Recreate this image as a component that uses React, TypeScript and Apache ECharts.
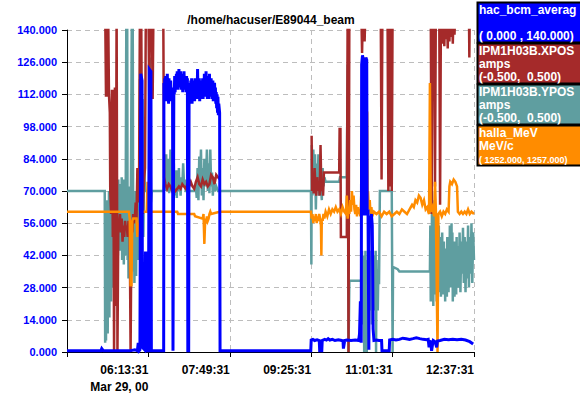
import React, { useEffect, useRef } from "react";
import * as echarts from "echarts";

// x values: minutes since 04:37:31 (Mar 29, 00); y values: display scale 0..140
const xTickLabels = ["", "06:13:31", "07:49:31", "09:25:31", "11:01:31", "12:37:31"];
const dateLabel = "Mar 29, 00";
const titleText = "/home/hacuser/E89044_beam";

const legendItems = [
  { name: "hac_bcm_averag", unit: "", range: "( 0.000 , 140.000)", color: "#0000ff", rangeSize: 12 },
  { name: "IPM1H03B.XPOS", unit: "amps", range: "(-0.500,  0.500)", color: "#a52a2a", rangeSize: 12 },
  { name: "IPM1H03B.YPOS", unit: "amps", range: "(-0.500,  0.500)", color: "#5f9ea0", rangeSize: 12 },
  { name: "halla_MeV", unit: "MeV/c", range: "( 1252.000, 1257.000)", color: "#ff8c00", rangeSize: 9 },
];

const bcmAverage: [number, number][] = [
  [0, 0.5], [40, 0.5], [41, 1.5], [43, 0.5], [60, 0.5], [74, 0.5], [80, 1], [83, 0.5], [84, 4], [85, 0.5], [86, 1],
  [87, 121], [88.5, 118], [89, 2], [91.5, 1], [92.5, 43], [93.5, 43], [94, 0.5], [96, 0.5], [97, 123], [99, 122], [99.5, 0.5], [114, 0.5],
  [114.3, 117], [114.8, 110], [115.3, 119], [115.8, 111], [116.3, 120], [116.8, 109], [117.3, 118], [117.8, 112], [118.3, 121], [118.8, 110],
  [119.3, 117], [119.8, 108], [120.3, 119], [120.8, 111], [121.3, 116], [121.8, 109], [122.3, 118], [122.8, 110], [123.3, 115], [123.8, 111],
  [124.5, 112], [125, 0.5], [125.5, 0.5], [126, 115], [126.5, 112], [127, 120], [127.5, 113], [128, 119], [128.5, 114], [129, 121], [129.5, 115],
  [130, 122], [130.5, 114], [131, 121], [131.5, 116], [132, 123], [132.5, 115], [133, 120], [133.5, 116], [134, 122], [134.5, 114], [135, 121],
  [135.5, 115], [136, 119], [136.5, 113], [137, 121], [137.5, 116], [138, 122], [138.5, 114], [139, 120], [139.5, 115], [140, 119], [140.5, 113],
  [141, 120], [141.5, 114], [142, 119], [142.5, 0.5], [143.5, 0.5], [144, 117], [144.5, 110], [145, 116], [145.5, 109], [146, 118], [146.5, 111],
  [147, 119], [147.5, 108], [148, 116], [148.5, 110], [149, 118], [149.5, 112], [150, 117], [150.5, 109], [151, 119], [151.5, 112], [152, 116],
  [152.5, 110], [153, 118], [153.5, 113], [154, 123], [154.5, 111], [155, 117], [155.5, 110], [156, 119], [156.5, 109], [157, 116], [157.5, 111],
  [158, 118], [158.5, 110], [159, 117], [159.5, 112], [160, 119], [160.5, 110], [161, 117], [161.5, 111], [162, 121], [162.5, 112], [163, 118],
  [163.5, 113], [164, 122], [164.5, 111], [165, 118], [165.5, 110], [166, 120], [166.5, 112], [167, 117], [167.5, 110], [168, 121], [168.5, 112],
  [169, 118], [169.5, 111], [170, 119], [170.5, 112], [171, 117], [171.5, 110], [172, 118], [172.5, 109], [173, 116], [173.5, 111], [174, 117],
  [174.5, 110], [175, 115], [175.5, 108], [176, 113], [176.5, 106], [177, 112], [177.5, 104], [178, 111], [178.5, 103], [179, 108], [180, 104],
  [180.5, 0.5], [287.5, 0.5],
  [288, 5.2], [290, 5.5], [292, 5], [295, 5.3], [297.5, 5], [298, 0.5], [300.5, 0.5], [301, 5], [304, 5.5], [306, 5.2], [308, 5.8], [310, 5.2],
  [313, 5.5], [316, 5], [320, 5.3], [324, 5], [325.5, 4.8], [326, 1.5], [327.5, 5], [330, 5.2], [335, 5], [340, 5.2], [344, 5], [345, 8],
  [346, 22], [347, 4], [347.5, 125], [348.5, 129], [349.5, 127], [350, 60], [352, 60], [352.5, 128], [353.5, 127], [354, 60], [355, 62],
  [356, 1], [356.5, 58], [358, 57], [359, 60], [360, 55], [360.5, 38], [361, 10], [362, 5], [365, 5.2], [368, 5], [371, 5], [371.5, 0.5], [380, 0.5],
  [380.5, 5.2], [384, 5.5], [388, 5.2], [392, 5.5], [396, 6], [400, 5.8], [404, 5.5], [408, 5.8], [412, 6.2], [416, 5.8], [420, 5.5], [424, 5.3],
  [426, 5.5], [427, 2], [428, 5], [429, 4], [430, 0.5], [431, 3], [432, 5], [434, 4.5], [436, 2], [437, 4.8], [440, 5], [445, 5.5], [450, 5.3],
  [455, 5.5], [460, 5.3], [465, 5.5], [470, 5.2], [475, 4.5], [479, 3.5],
];

const xpos: [number, number | null][] = [
  [45, 150], [46, 111], [46.5, 150], [47.5, 111], [48.5, 150], [49.5, 112], [50.5, 104], [51, 70], [52, 60], [53, 114], [54, 50], [54.5, 114],
  [55.5, 0], [56.5, 115], [57.5, 20], [58.5, 150], [59.5, 0], [60.5, 55], [61.5, 55], [62.5, 60], [63.5, 52], [64.5, 58], [65.5, 48], [66.5, 55],
  [67.5, 50], [68.5, 57], [69.5, 53], [70.5, 55], [71.5, 50], [72.5, 57], [74, 52], [75, 0], [76, 55], [77, 52], [78, 60], [79, 56], [80, 58],
  [81, 65], [82, 58], [83, 80], [84, 65], [85, 75], [86, 150], [87.5, 150], [88.5, 80], [89.5, 60], [90.5, 72], [92, 80], [93, 150], [96, 150],
  [97, 110], [98, 150], [100, 150], [101, 110], [102, 150], [113.5, 150], [114.5, 76], [116, 73], [118, 71], [120, 73], [122, 72], [124, 70],
  [126, 71], [128, 70], [130, 71], [132, 72], [134, 71], [136, 73], [138, 72], [140, 71], [142, 73], [144, 72], [146, 74], [148, 72], [150, 71],
  [152, 74], [154, 76], [156, 73], [158, 72], [160, 75], [162, 73], [164, 74], [166, 72], [168, 73], [170, 77], [172, 76], [174, 73], [176, 77],
  [178, 76], [180.4, 75], [181, null],
  [288.5, 94], [289, 70], [290, 75], [291, 69], [292, 80], [293, 72], [294, 68], [295, 76], [296, 70], [297, 74], [298, 68], [299, 90], [300, 70],
  [301, 72], [302, 68], [303, 78], [304, 78], [321, 78], [321.5, 97], [322.5, 97], [323, 50], [330, 50], [331, 150], [332, 0], [333, 150],
  [347, 150], [348, 130], [349, 150], [350, 150], [351, 135], [352, 150], [370, 150], [371, 75], [372, 150], [378, 150], [379, 70], [380, 150],
  [381, 72], [382, 150], [383, 70], [384, 150], [429, 150], [430, 60], [431, 150], [433, 150], [434, 72], [435, 150], [439, 150], [440, 64],
  [441, 150], [443, 134], [444, 150], [445, 133], [446, 150], [447, 136], [448, 150], [449, 132], [450, 150], [451, 135], [452, 150], [453, 137],
  [454, 150], [455, 134], [456, 150], [457, 138], [458, 150], [474, 150], [474.5, 128], [475, 150], [480, 150],
];

const ypos: [number, number][] = [
  [0, 70], [44.5, 70], [45, 4], [45.5, 62], [46, 5], [46.5, 55], [47, 12], [47.5, 66], [48, 8], [48.5, 60], [49, 25], [49.5, 70], [50, 15],
  [50.5, 64], [51, 30], [51.5, 72], [52, 22], [52.5, 68], [53, 38], [53.5, 73], [54, 28], [54.5, 66], [55, 42], [55.5, 71], [56, 35], [56.5, 73],
  [57, 45], [57.5, 68], [58, 40], [58.5, 74], [59, 48], [59.5, 70], [60, 42], [60.5, 75], [61, 50], [61.5, 68], [62, 44], [62.5, 73], [63, 52],
  [63.5, 70], [64, 46], [64.5, 76], [65, 40], [65.5, 72], [66, 48], [66.5, 75], [67, 38], [67.5, 70], [68, 45], [68.5, 73], [69, 42], [70, 150],
  [71, 150], [71.5, 40], [72, 70], [72.5, 32], [73, 68], [73.5, 35], [74, 72], [75, 45], [76.5, 150], [77.5, 150], [78, 58], [78.5, 35], [79, 66],
  [79.5, 30], [80, 62], [80.5, 40], [81, 70], [81.5, 33], [82, 64], [82.5, 45], [83, 70], [84, 40], [85, 72], [86, 118], [87, 118], [88, 60],
  [89, 110], [90, 50], [91, 80], [92, 70], [97, 70], [98, 128], [99, 65], [100, 70], [114, 70],
  [115, 80], [115.5, 70], [116, 83], [116.5, 72], [117, 86], [117.5, 74], [118, 80], [118.5, 70], [119, 84], [119.5, 73], [120, 78], [120.5, 69],
  [121, 82], [121.5, 72], [122, 88], [122.5, 73], [123, 80], [123.5, 70], [124, 87], [124.5, 72], [125, 86], [125.5, 74], [126, 82], [126.5, 70],
  [127, 79], [127.5, 68], [128, 78], [128.5, 71], [129, 76], [129.5, 67], [130, 79], [130.5, 72], [131, 76], [131.5, 70], [132, 80], [132.5, 71],
  [133, 76], [134, 68], [135, 76], [136, 72], [137, 82], [138, 73], [139, 75], [140, 70], [150, 70], [152, 72], [153, 67], [154, 80], [155, 66],
  [156, 85], [157, 73], [158, 88], [159, 68], [160, 80], [161, 66], [162, 84], [163, 72], [164, 76], [165, 88], [166, 70], [167, 82], [168, 69],
  [169, 88], [170, 72], [171, 78], [172, 68], [173, 76], [174, 70], [176, 72], [178, 70], [287.7, 70],
  [288.2, 38], [288.7, 90], [289.5, 68], [290.5, 88], [291.5, 70], [292.5, 86], [293.5, 62], [294.5, 82], [295.5, 70], [296.5, 86], [297.5, 68],
  [298.5, 80], [299.5, 72], [300.5, 66], [301.5, 80], [302.5, 72], [303.5, 76], [305, 74], [321, 74], [322, 76], [330, 76], [331, 125], [332, 0],
  [333, 31], [347, 31], [348, 44], [348.5, 12], [349, 42], [349.5, 24], [350, 40], [350.5, 0], [351, 38], [351.5, 18], [352, 44], [352.5, 20],
  [353, 36], [353.5, 0], [354, 40], [354.5, 22], [355, 38], [355.5, 16], [356, 42], [356.5, 22], [357, 36], [357.5, 18], [358, 40], [358.5, 20],
  [359, 44], [359.5, 12], [360, 40], [360.5, 24], [361, 36], [361.5, 18], [362, 42], [362.5, 22], [363, 38], [363.5, 20], [364, 44], [364.5, 0],
  [365, 40], [365.5, 22], [366, 36], [366.5, 18], [367, 30], [368, 30], [369, 70], [383, 70], [384, 0], [384.5, 37], [390, 36], [392, 35], [428, 35],
  [428.5, 55], [429, 22], [429.5, 48], [430, 25], [430.5, 70], [431, 28], [431.5, 66], [432, 20], [432.5, 55], [433, 30], [433.5, 62], [434, 25],
  [434.5, 50], [435, 30], [435.5, 45], [436, 22], [436.5, 52], [437, 28], [437.5, 48], [438, 32], [438.5, 55], [439, 26], [439.5, 44], [440, 30],
  [440.5, 50], [441, 24], [441.5, 46], [442, 34], [442.5, 52], [443, 28], [443.5, 42], [444, 25], [444.5, 48], [445, 30], [445.5, 38], [446, 22],
  [446.5, 45], [447, 28], [447.5, 40], [448, 24], [448.5, 50], [449, 30], [449.5, 44], [450, 26], [450.5, 48], [451, 32], [451.5, 55], [452, 28],
  [452.5, 50], [453, 34], [453.5, 56], [454, 30], [454.5, 52], [455, 22], [455.5, 46], [456, 30], [456.5, 42], [457, 24], [457.5, 48], [458, 28],
  [458.5, 40], [459, 25], [459.5, 50], [460, 30], [461, 46], [462, 28], [463, 52], [464, 26], [465, 48], [466, 34], [467, 54], [468, 30],
  [469, 50], [470, 26], [471, 48], [472, 32], [473, 55], [474, 28], [475, 50], [476, 34], [477, 56], [478, 30], [479, 52], [480, 40],
];

const hallaMeV: [number, number][] = [
  [0, 61], [73, 61], [74, 58], [75, 29], [76, 29], [77, 57], [78, 58], [82, 58], [83, 50], [84, 56], [85, 52], [86, 61], [94, 61], [95, 74],
  [96, 61], [130, 61], [131, 60], [150, 60], [151, 59], [160, 58], [161, 60], [162, 47], [163, 58], [164, 56], [165, 59], [166, 57], [167, 58],
  [168, 60], [169, 61], [170, 60], [180, 61], [287.7, 61],
  [288.5, 58], [289.5, 60], [290.5, 56], [291.5, 59], [292.5, 57], [293.5, 60], [294.5, 56], [295.5, 59], [296.5, 57], [297.5, 60], [298.5, 58],
  [299.5, 55], [300, 42], [300.5, 58], [301.5, 57], [302.5, 60], [303.5, 58], [305, 61], [307, 59], [309, 62], [311, 60], [313, 62], [315, 61],
  [317, 63], [319, 61], [321, 62], [323, 60], [325, 63], [327, 61], [329, 60], [330, 68], [331, 58], [332, 62], [333, 60], [334, 66], [335, 61],
  [336, 70], [337, 64], [338, 68], [339, 62], [340, 60], [341, 64], [342, 59], [343, 63], [344, 60], [345, 62], [346, 59], [347, 68], [348, 62],
  [350, 64], [350.5, 128], [351.5, 126], [352, 70], [353, 106], [354, 104], [354.5, 64], [355, 70], [356, 62], [357, 66], [358, 60], [359, 63],
  [360, 59], [362, 61], [365, 60], [368, 61], [371, 59], [374, 61], [377, 60], [380, 61], [383, 59], [386, 60], [389, 61], [392, 60], [395, 62],
  [398, 61], [401, 60], [404, 62], [407, 64], [409, 63], [411, 66], [413, 65], [415, 68], [417, 67], [419, 64], [421, 66], [423, 62], [425, 63],
  [426, 61], [427, 60], [428, 117], [429, 61], [431, 63], [433, 59], [434, 74], [435, 62], [436, 30], [437, 0], [438, 60], [440, 61], [442, 59],
  [444, 61], [446, 60], [448, 62], [450, 61], [451, 72], [452, 74], [454, 73], [456, 75], [458, 74], [460, 72], [461, 61], [463, 60], [465, 61],
  [467, 60], [469, 61], [471, 60], [473, 62], [475, 60], [477, 61], [480, 60],
];

const FONT = "'Liberation Sans', Arial, sans-serif";

function buildOption() {
  const graphics: any[] = [
    {
      type: "text",
      x: 271,
      y: 20,
      style: {
        text: titleText,
        fill: "#000",
        font: `bold 12px ${FONT}`,
        textAlign: "center",
        textVerticalAlign: "middle",
      },
    },
  ];
  legendItems.forEach((item, i) => {
    const top = 2.5 + i * 41;
    const children: any[] = [
      {
        type: "rect",
        shape: { x: 477.5, y: top, width: 104, height: 40 },
        style: { fill: item.color, stroke: "#000", lineWidth: 2 },
      },
      {
        type: "text",
        x: 479,
        y: top + 7,
        style: { text: item.name, fill: "#fff", font: `bold 12px ${FONT}`, textVerticalAlign: "middle" },
      },
    ];
    if (item.unit) {
      children.push({
        type: "text",
        x: 479,
        y: top + 20.5,
        style: { text: item.unit, fill: "#fff", font: `bold 12px ${FONT}`, textVerticalAlign: "middle" },
      });
    }
    children.push({
      type: "text",
      x: 479,
      y: top + (item.rangeSize < 10 ? 34 : 33.5),
      style: { text: item.range, fill: "#fff", font: `bold ${item.rangeSize}px ${FONT}`, textVerticalAlign: "middle" },
    });
    graphics.push({ type: "group", children });
  });

  const lineSeries = (name: string, data: any[], color: string, width: number, z: number) => ({
    name,
    type: "line",
    data,
    showSymbol: false,
    symbol: "none",
    connectNulls: false,
    clip: true,
    silent: true,
    z,
    lineStyle: { color, width, join: "miter" },
    emphasis: { disabled: true },
  });

  return {
    animation: false,
    backgroundColor: "#ffffff",
    textStyle: { fontFamily: FONT },
    grid: { left: 67, top: 30, width: 407, height: 322, containLabel: false, outerBoundsMode: "none" },
    xAxis: {
      type: "value",
      min: 0,
      max: 480,
      interval: 96,
      axisLine: { show: true, onZero: false, lineStyle: { color: "#000", width: 1 } },
      axisTick: { show: true, length: 5, inside: false, lineStyle: { color: "#000" } },
      splitLine: { show: true, lineStyle: { color: "#bdbdbd", type: [5, 4], width: 1 } },
      axisLabel: {
        show: true,
        interval: 0,
        showMinLabel: true,
        showMaxLabel: true,
        hideOverlap: false,
        align: "right",
        margin: 9,
        color: "#000",
        fontWeight: "bold",
        fontSize: 12,
        fontFamily: FONT,
        lineHeight: 17,
        formatter: (v: number) => {
          const i = Math.round(v / 96);
          const lab = xTickLabels[i] ?? "";
          return i === 1 ? `${lab}\n${dateLabel}` : lab;
        },
      },
    },
    yAxis: {
      type: "value",
      min: 0,
      max: 140,
      interval: 14,
      axisLine: { show: true, lineStyle: { color: "#000", width: 1 } },
      axisTick: { show: true, length: 5, inside: false, lineStyle: { color: "#000" } },
      splitLine: { show: true, lineStyle: { color: "#bdbdbd", type: [5, 4], width: 1 } },
      axisLabel: {
        show: true,
        margin: 10,
        color: "#0000ff",
        fontWeight: "bold",
        fontSize: 11,
        fontFamily: FONT,
        formatter: (v: number) => v.toFixed(3),
      },
    },
    series: [
      lineSeries("IPM1H03B.YPOS", ypos, "#5f9ea0", 2.5, 2),
      lineSeries("IPM1H03B.XPOS", xpos, "#a52a2a", 2.5, 3),
      lineSeries("halla_MeV", hallaMeV, "#ff8c00", 2.5, 4),
      lineSeries("hac_bcm_average", bcmAverage, "#0000ff", 3, 5),
    ],
    graphic: graphics,
  };
}

export default function App() {
  const ref = useRef<HTMLDivElement>(null);
  useEffect(() => {
    if (!ref.current) return;
    const chart = echarts.init(ref.current, null, { renderer: "svg", width: 580, height: 420 });
    chart.setOption(buildOption() as any);
    return () => chart.dispose();
  }, []);
  return (
    <div
      ref={ref}
      style={{ position: "fixed", left: 0, top: 0, width: 580, height: 420, overflow: "hidden", background: "#fff" }}
    />
  );
}
